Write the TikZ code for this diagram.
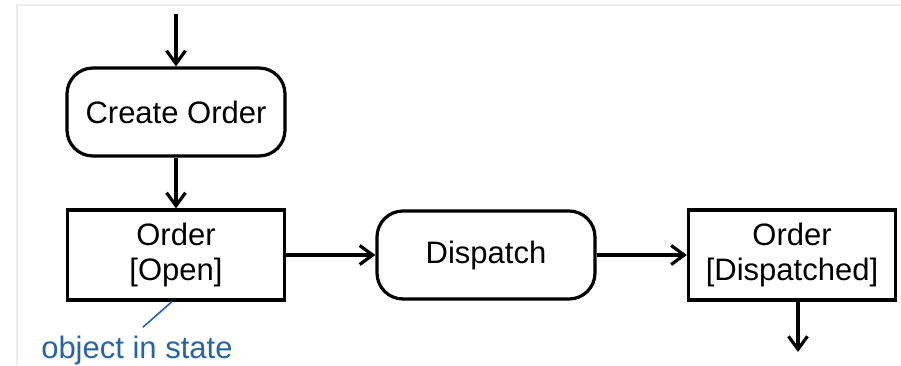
\documentclass[tikz,border=0pt]{standalone}
\usepackage{fontspec}
\setmainfont{Liberation Sans}
\usetikzlibrary{arrows.meta,positioning}
\definecolor{objblue}{RGB}{40,100,165}

\begin{document}
\begin{tikzpicture}[x=0.5pt,y=-0.5pt,line width=1.6pt,
    >={Straight Barb[length=6.5pt,width=9.5pt]},
    node distance=71.5pt and 155pt,on grid,
    every node/.style={font=\fontsize{15.5}{17.5}\selectfont},
    action/.style={draw,rounded corners=13pt,minimum width=109pt,minimum height=44pt,inner sep=0pt},
    object/.style={draw,minimum width=108.5pt,minimum height=45pt,align=center,inner sep=0pt}]
    \useasboundingbox (0,0) rectangle (901,365);
    \draw[gray!15,line width=1pt] (17,365) -- (17,5) -- (901,5);
    \coordinate (in) at (176,14);
    \node[action] (create) at (176,112) {Create Order};
    \node[object] (open) [below=of create] {Order\\{[Open]}};
    \node[action] (dispatch) [right=of open] {Dispatch};
    \node[object,minimum width=103.5pt] (dispatched) [right=153pt of dispatch] {Order\\{[Dispatched]}};
    \coordinate (out) at (798,352);
    \path[->]
    (in) edge (create)
    (create) edge (open)
    (open) edge (dispatch)
    (dispatch) edge (dispatched)
    (dispatched.south -| out) edge (out);
    % note on the object node
    \node[text=objblue,anchor=base west] (note) at (33,358) {object in state};
    \draw[objblue,line width=0.8pt] ([xshift=-2pt]open.south) -- ([xshift=3pt]note.north);
\end{tikzpicture}
\end{document}
